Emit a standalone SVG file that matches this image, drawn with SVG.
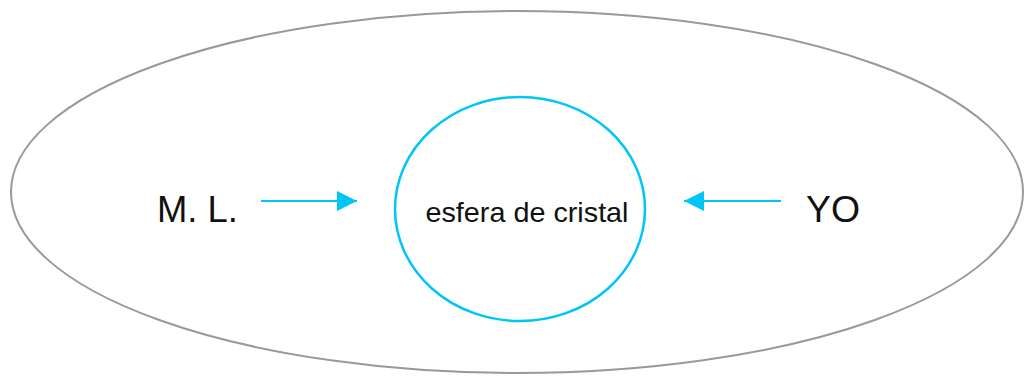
<svg xmlns="http://www.w3.org/2000/svg" width="1024" height="376" viewBox="0 0 1024 376">
<style>
.lbl{font-family:"Liberation Sans",Arial,sans-serif;fill:#111}
.conn{stroke:#00C5F7;stroke-width:2;fill:none}
</style>
<defs>
<marker id="ah" markerWidth="20" markerHeight="20" refX="20" refY="10" orient="auto" markerUnits="userSpaceOnUse">
<path d="M0,0 L20,10 L0,20 Z" fill="#00C5F7"/>
</marker>
</defs>
<rect width="1024" height="376" fill="#fff"/>
<g id="outer">
<ellipse cx="517" cy="192" rx="506" ry="181" fill="none" stroke="#999" stroke-width="2"/>
</g>
<g id="esfera">
<ellipse cx="520" cy="209" rx="125" ry="112" fill="none" stroke="#00C5F7" stroke-width="2.5"/>
<text class="lbl" x="527" y="222" font-size="28" text-anchor="middle" textLength="203" lengthAdjust="spacingAndGlyphs">esfera de cristal</text>
</g>
<g id="ml">
<text class="lbl" x="157" y="222" font-size="37" textLength="81" lengthAdjust="spacingAndGlyphs">M. L.</text>
</g>
<g id="yo">
<text class="lbl" x="806" y="222" font-size="37" textLength="54" lengthAdjust="spacingAndGlyphs">YO</text>
</g>
<g id="connectors">
<line class="conn" x1="261" y1="201" x2="357" y2="201" marker-end="url(#ah)"/>
<line class="conn" x1="781" y1="201" x2="684" y2="201" marker-end="url(#ah)"/>
</g>
</svg>
